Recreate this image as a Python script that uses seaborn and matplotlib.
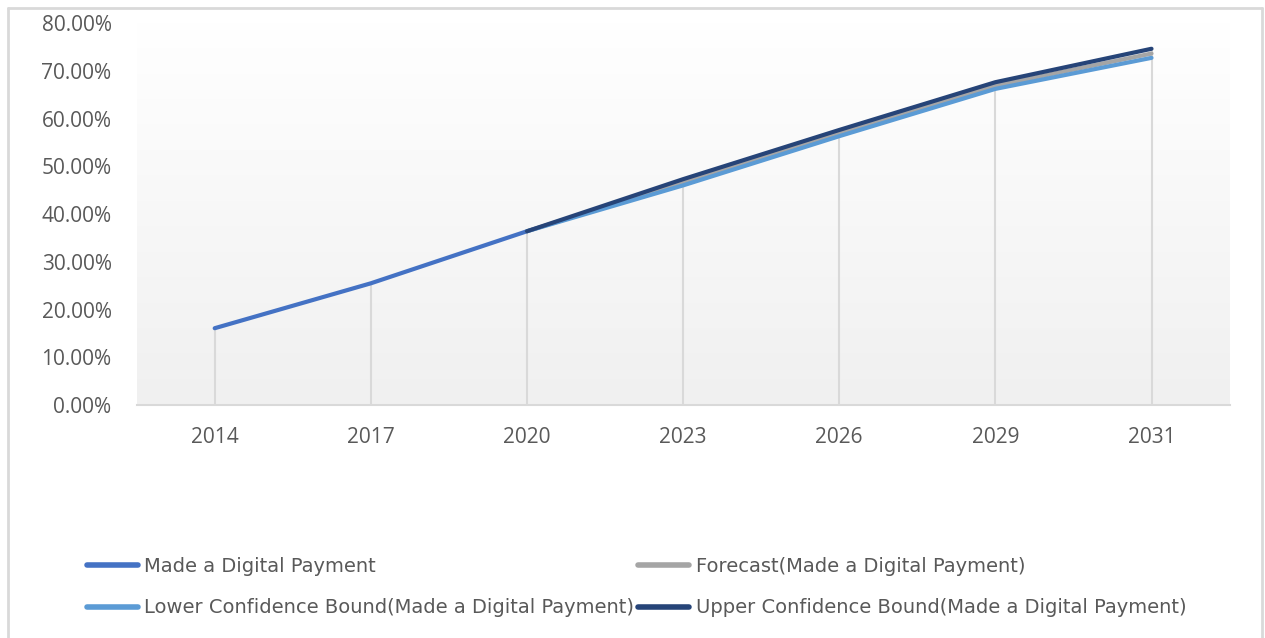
import matplotlib
matplotlib.use('Agg')
import matplotlib.pyplot as plt
import numpy as np
import pandas as pd
import seaborn as sns
from matplotlib.lines import Line2D
from matplotlib.ticker import PercentFormatter

years = ['2014', '2017', '2020', '2023', '2026', '2029', '2031']
actual = [0.161, 0.255, 0.364, np.nan, np.nan, np.nan, np.nan]
forecast = [np.nan, np.nan, 0.364, 0.466, 0.570, 0.669, 0.736]
lower = [np.nan, np.nan, 0.364, 0.460, 0.563, 0.662, 0.727]
upper = [np.nan, np.nan, 0.364, 0.473, 0.576, 0.676, 0.746]

names = ['Made a Digital Payment',
         'Forecast(Made a Digital Payment)',
         'Lower Confidence Bound(Made a Digital Payment)',
         'Upper Confidence Bound(Made a Digital Payment)']
colors = ['#4472C4', '#A5A5A5', '#5B9BD5', '#264478']

sns.set_style('white')
plt.rcParams['font.family'] = ['Open Sans', 'DejaVu Sans']

frames = []
for name, vals in zip(names, [actual, forecast, lower, upper]):
    frames.append(pd.DataFrame({'idx': range(len(years)), 'value': vals, 'series': name}))
df = pd.concat(frames).dropna()

fig = plt.figure(figsize=(12.65, 6.38), dpi=100)
ax = fig.add_axes([0.108, 0.365, 0.864, 0.599])

# soft vertical gradient behind the plot
grad = np.linspace(1, 0, 256).reshape(-1, 1)
cmap = matplotlib.colors.LinearSegmentedColormap.from_list('g', ['#f0f0f0', '#ffffff'])
ax.imshow(grad, extent=[0, 1, 0, 1], transform=ax.transAxes, cmap=cmap,
          aspect='auto', zorder=0, origin='upper')

# drop lines from the highest point to the axis
top = np.nanmax(np.array([actual, forecast, lower, upper]), axis=0)
ax.vlines(range(len(years)), 0, top, color='#d9d9d9', lw=1.5, zorder=1)

sns.lineplot(data=df, x='idx', y='value', hue='series', hue_order=names,
             palette=colors, lw=3, legend=False, ax=ax, zorder=3)

ax.set_xlim(-0.5, 6.5)
ax.set_ylim(0, 0.8)
ax.set_xticks(range(len(years)))
ax.set_xticklabels(years)
ax.set_yticks(np.arange(0, 0.81, 0.1))
ax.yaxis.set_major_formatter(PercentFormatter(1.0, decimals=2))
ax.tick_params(axis='both', length=0, labelsize=15, labelcolor='#595959')
ax.tick_params(axis='x', pad=16)
ax.tick_params(axis='y', pad=18)
ax.set_xlabel('')
ax.set_ylabel('')
for s in ['top', 'right', 'left']:
    ax.spines[s].set_visible(False)
ax.spines['bottom'].set_color('#d9d9d9')
ax.spines['bottom'].set_linewidth(1.5)

handles = [Line2D([], [], color=c, lw=4) for c in colors]
order = [0, 2, 1, 3]
fig.legend([handles[i] for i in order], [names[i] for i in order],
           loc='lower left', bbox_to_anchor=(0.055, 0.005), ncol=2,
           frameon=False, handlelength=2.6, handletextpad=0.35,
           columnspacing=0.2, labelspacing=1.15, labelcolor='#595959',
           prop={'family': ['Liberation Sans Narrow', 'DejaVu Sans'], 'size': 14})

# outer chart border
for xs, ys in [([0.006, 0.998], [0.987, 0.987]), ([0.006, 0.006], [0.0, 0.987]),
               ([0.998, 0.998], [0.0, 0.987])]:
    fig.add_artist(Line2D(xs, ys, color='#d9d9d9', lw=2, transform=fig.transFigure))

fig.savefig('out.png', dpi=100)
